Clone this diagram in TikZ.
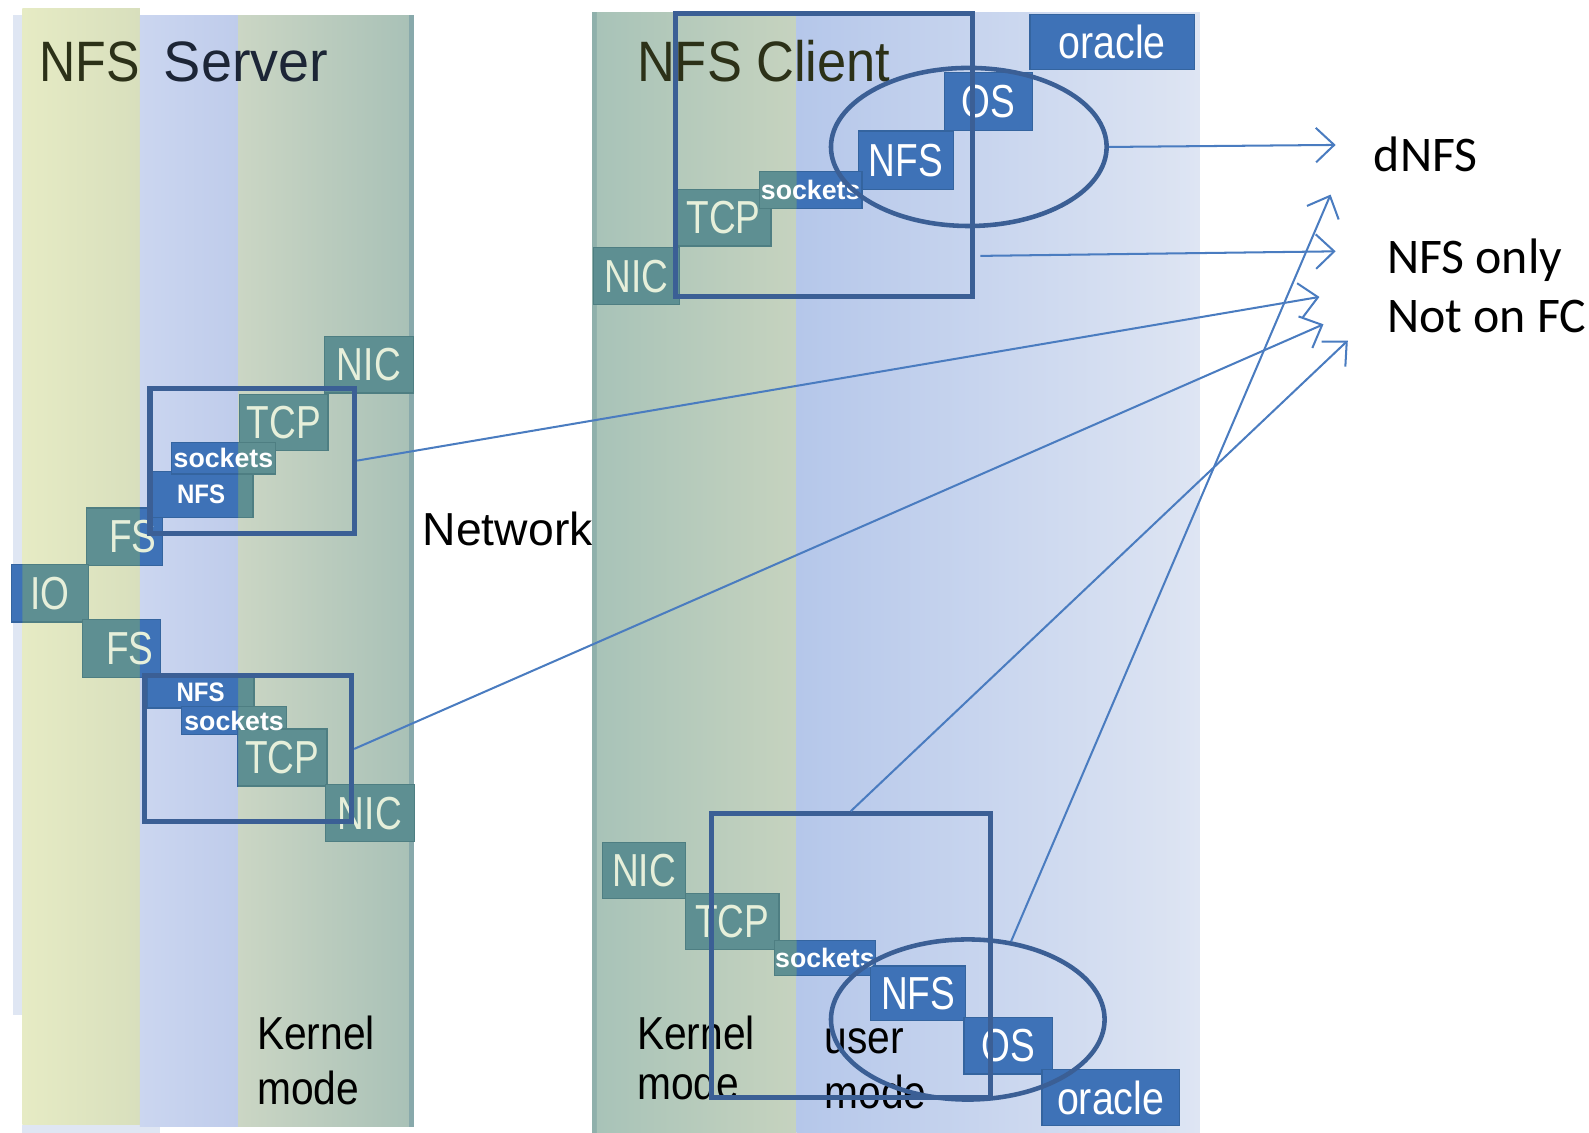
\documentclass[tikz,border=0pt]{standalone}
\usepackage{fontspec}
\setmainfont{Liberation Sans}
\newfontfamily\calfont{Carlito}
\usetikzlibrary{arrows.meta,shapes.geometric}

% column and box colours
\definecolor{yelL}{HTML}{E6EBC4}
\definecolor{yelR}{HTML}{D8DFBD}
\definecolor{bcolL}{HTML}{CBD6F0}
\definecolor{bcolR}{HTML}{BFCCEB}
\definecolor{grnL}{HTML}{CBD6C4}
\definecolor{grnR}{HTML}{A9C1B7}
\definecolor{svedge}{HTML}{88A9AB}
\definecolor{svstrip}{HTML}{DFE6F3}
\definecolor{cledge}{HTML}{8FB0AB}
\definecolor{cgL}{HTML}{A8C3B8}
\definecolor{cgR}{HTML}{C6D3BF}
\definecolor{cbL}{HTML}{B5C7EA}
\definecolor{cbR}{HTML}{DEE5F3}
\definecolor{tealfill}{HTML}{5E8F92}
\definecolor{tealedge}{HTML}{4E7E82}
\definecolor{bluefill}{HTML}{3E72B7}
\definecolor{blueedge}{HTML}{34649F}
\definecolor{boxtext}{HTML}{E6EFDA}
\definecolor{framec}{HTML}{3B5F95}
\definecolor{linkc}{HTML}{4A7CC0}
\definecolor{olivec}{HTML}{2C3118}
\definecolor{navyc}{HTML}{1C2536}

\pgfdeclarelayer{panels}
\pgfdeclarelayer{fills}
\pgfsetlayers{panels,fills,main}

\newcommand\nar[2][0.8]{\scalebox{#1}[1]{#2}}

\tikzset{
  box/.style={rectangle, inner sep=0pt, text=boxtext, font=\fontsize{13}{13}\selectfont},
  tag/.style={rectangle, inner sep=0pt, text=white, font=\bfseries\fontsize{7.5}{7.5}\selectfont},
  frame/.style={rectangle, draw=framec, line width=0.5mm, inner sep=0pt},
  ring/.style={ellipse, draw=framec, line width=0.45mm, inner sep=0pt},
  link/.style={draw=linkc, line width=0.2mm, -{Straight Barb[length=1.8mm,width=3.4mm]}},
  title/.style={anchor=base west, inner sep=0pt, font=\fontsize{16}{16}\selectfont},
  modetext/.style={anchor=base west, inner sep=0pt, text=black, font=\fontsize{13}{13}\selectfont},
  note/.style={anchor=base west, inner sep=0pt, text=black, font=\calfont\fontsize{14}{14}\selectfont},
}

\begin{document}
\begin{tikzpicture}[x=0.1mm, y=-0.1mm]
\useasboundingbox (0,0) rectangle (1568,1118);

% ---------- panel backgrounds ----------
\begin{pgfonlayer}{panels}
  % server
  \fill[svstrip] (13,15) rectangle (22,1002);
  \shade[left color=yelL, right color=yelR] (22,8) rectangle (138,1110);
  \fill[svstrip] (22,1110) rectangle (158,1118);
  \shade[left color=bcolL, right color=bcolR] (138,15) rectangle (235,1112);
  \shade[left color=grnL, right color=grnR] (235,15) rectangle (404,1112);
  \fill[svedge] (404,15) rectangle (409,1112);
  % client
  \fill[cledge] (584,12) rectangle (589,1118);
  \shade[left color=cgL, right color=cgR] (589,12) rectangle (786,1118);
  \shade[left color=cbL, right color=cbR] (786,12) rectangle (1184,1118);
\end{pgfonlayer}

% ---------- titles and labels ----------
\node[title] (srvtitle) at (38,80) {\color{olivec}\nar[0.88]{NFS}\hspace{2.4mm}\color{navyc}\nar[0.98]{Server}};
\node[title] (clititle) at (628,80) {\color{olivec}\nar[0.92]{NFS Client}};
\node[anchor=base, inner sep=0pt, font=\fontsize{13}{13}\selectfont] (net) at (501,538) {Network};

\node[modetext] (sk1) at (253,1036) {\nar[0.88]{Kernel}};
\node[modetext] (sk2) at (253,1090) {\nar[0.88]{mode}};
\node[modetext] (ck1) at (628,1036) {\nar[0.88]{Kernel}};
\node[modetext] (ck2) at (628,1085) {\nar[0.88]{mode}};
\node[modetext] (cu1) at (813,1040) {\nar[0.88]{user}};
\node[modetext] (cu2) at (813,1094) {\nar[0.88]{mode}};

% ---------- server stack ----------
\node[box, minimum width=8.6mm, minimum height=5.4mm] (sNIC1) at (364,360) {\nar{NIC}};
\node[box, minimum width=8.6mm, minimum height=5.4mm] (sTCP1) at (280,417) {\nar{TCP}};
\node[tag, minimum width=10.1mm, minimum height=3.0mm] (sSock1) at (220.5,452) {sockets};
\node[tag, minimum width=10.1mm, minimum height=4.4mm] (sNFS1) at (198.5,488) {\nar[0.9]{NFS}};
\node[box, minimum width=7.4mm, minimum height=5.5mm] (sFS1) at (123,529.5) {\hspace{1.6mm}\nar{FS}};
\node[box, minimum width=7.5mm, minimum height=5.5mm] (sIO) at (49.5,585.5) {\nar{IO}};
\node[box, minimum width=7.6mm, minimum height=5.6mm] (sFS2) at (120,640) {\hspace{1.6mm}\nar{FS}};
\node[tag, minimum width=10.4mm, minimum height=3.0mm] (sNFS2) at (198,683) {\nar[0.9]{NFS}};
\node[tag, minimum width=10.2mm, minimum height=2.6mm] (sSock2) at (231,711) {sockets};
\node[box, minimum width=8.7mm, minimum height=5.5mm] (sTCP2) at (278.5,747.5) {\nar{TCP}};
\node[box, minimum width=8.6mm, minimum height=5.5mm] (sNIC2) at (365,802.5) {\nar{NIC}};

% ---------- client stacks ----------
\node[box, minimum width=16.1mm, minimum height=5.3mm, text=white] (cOra1) at (1097.5,41.5) {\nar[0.85]{oracle}};
\node[box, minimum width=8.5mm, minimum height=5.6mm, text=white] (cOS1) at (975.5,100) {\nar{OS}};
\node[box, minimum width=9.2mm, minimum height=5.6mm, text=white] (cNFS1) at (894,158) {\nar{NFS}};
\node[tag, minimum width=10.0mm, minimum height=3.5mm] (cSock1) at (800,187.5) {sockets};
\node[box, minimum width=9.2mm, minimum height=5.4mm] (cTCP1) at (714,215) {\nar{TCP}};
\node[box, minimum width=8.4mm, minimum height=5.5mm] (cNIC1) at (628,272.5) {\nar{NIC}};

\node[box, minimum width=8.1mm, minimum height=5.4mm] (cNIC2) at (635.5,859) {\nar{NIC}};
\node[box, minimum width=9.1mm, minimum height=5.4mm] (cTCP2) at (722.5,909) {\nar{TCP}};
\node[tag, minimum width=9.8mm, minimum height=3.3mm] (cSock2) at (814,945.5) {sockets};
\node[box, minimum width=9.2mm, minimum height=5.2mm, text=white] (cNFS2) at (906,980) {\nar{NFS}};
\node[box, minimum width=8.6mm, minimum height=5.4mm, text=white] (cOS2) at (995,1032) {\nar{OS}};
\node[box, minimum width=13.4mm, minimum height=5.4mm, text=white] (cOra2) at (1096,1083) {\nar[0.85]{oracle}};

% ---------- box fills: teal everywhere, blue inside the blue columns ----------
\begin{pgfonlayer}{fills}
  \foreach \n in {sNIC1,sTCP1,sFS1,sIO,sFS2,sNFS1,sSock1,sNFS2,sSock2,sTCP2,sNIC2,
                  cOra1,cOS1,cNFS1,cTCP1,cSock1,cNIC1,cNIC2,cTCP2,cSock2,cNFS2,cOS2,cOra2}
    \filldraw[fill=tealfill, draw=tealedge, line width=0.12mm] (\n.north west) rectangle (\n.south east);
  \begin{scope}
    \clip (0,0) rectangle (22,1118) (138,0) rectangle (235,1118) (786,0) rectangle (1200,1118);
    \foreach \n in {sNIC1,sTCP1,sFS1,sIO,sFS2,sNFS1,sSock1,sNFS2,sSock2,sTCP2,sNIC2,
                    cOra1,cOS1,cNFS1,cTCP1,cSock1,cNIC1,cNIC2,cTCP2,cSock2,cNFS2,cOS2,cOra2}
      \filldraw[fill=bluefill, draw=blueedge, line width=0.12mm] (\n.north west) rectangle (\n.south east);
  \end{scope}
\end{pgfonlayer}

% ---------- highlight frames ----------
\node[frame, minimum width=20.2mm, minimum height=14.3mm] (rS1) at (249,454.5) {};
\node[frame, minimum width=20.4mm, minimum height=14.4mm] (rS2) at (245,739) {};
\node[frame, minimum width=29.3mm, minimum height=28.0mm] (rC1) at (813.5,153) {};
\node[frame, minimum width=27.5mm, minimum height=28.0mm] (rC2) at (839.5,943) {};
\node[ring, minimum width=27.2mm, minimum height=15.6mm] (ellT) at (956,145) {};
\node[ring, minimum width=27.0mm, minimum height=15.8mm] (ellB) at (955,1006) {};

% ---------- side notes ----------
\node[note] (dnfs) at (1355,169) {dNFS};
\node[note] (nfsonly) at (1368,270) {NFS only};
\node[note] (notfc) at (1368,328) {Not on FC};

% ---------- connectors ----------
\coordinate (tipA) at (1318,143);
\coordinate (tipB) at (1318,248);
\coordinate (tipC) at (1302,293);
\coordinate (tipD) at (1306,320);
\coordinate (tipE) at (1330,336);
\coordinate (tipF) at (1313,192);
\draw[link] (ellT.east) -- (tipA);
\draw[link] ([xshift=0.5mm,yshift=4.3mm]rC1.south east) -- (tipB);
\draw[link] (rS1.east) -- (tipC);
\draw[link] (rS2.east) -- (tipD);
\draw[link] (rC2.north) -- (tipE);
\draw[link] (ellB.61) -- (tipF);
\end{tikzpicture}
\end{document}
